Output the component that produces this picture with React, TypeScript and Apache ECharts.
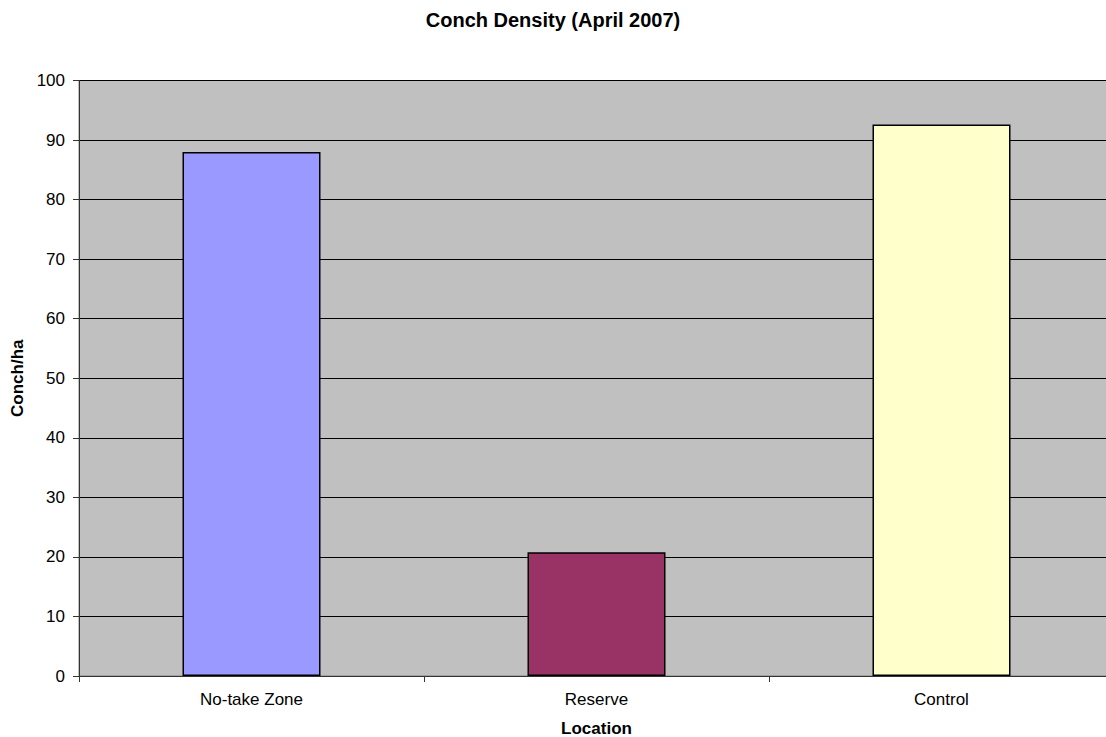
import React, { useEffect, useRef } from "react";
import * as echarts from "echarts";

const categories = ["No-take Zone", "Reserve", "Control"];
const density = [88, 20.8, 92.6];
const barColors = ["#9999FF", "#993366", "#FFFFCC"];
const yTicks = { min: 0, max: 100, interval: 10 };

const FONT = "Arial, 'Liberation Sans', Helvetica, sans-serif";

export default function App() {
  const ref = useRef<HTMLDivElement>(null);

  useEffect(() => {
    if (!ref.current) return;
    const chart = echarts.init(ref.current, undefined, { renderer: "svg" });
    chart.setOption({
      animation: false,
      backgroundColor: "#ffffff",
      textStyle: { fontFamily: FONT, color: "#000" },
      title: {
        text: "Conch Density (April 2007)",
        left: "center",
        top: 5,
        textStyle: { fontFamily: FONT, fontSize: 20, fontWeight: "bold", color: "#000" },
      },
      grid: {
        left: 79,
        top: 80.5,
        right: -8,
        bottom: 61,
        outerBoundsMode: "none",
        containLabel: false,
        show: true,
        backgroundColor: "#C0C0C0",
        borderColor: "#808080",
        borderWidth: 1,
      },
      xAxis: {
        type: "category",
        data: categories,
        boundaryGap: true,
        name: "Location",
        nameLocation: "middle",
        nameGap: 44,
        nameTextStyle: { fontFamily: FONT, fontSize: 17, fontWeight: "bold", color: "#000" },
        axisLine: { lineStyle: { color: "#333", width: 1 } },
        axisTick: { show: true, length: 6, alignWithLabel: false, lineStyle: { color: "#333" } },
        axisLabel: { fontFamily: FONT, fontSize: 17, color: "#000", margin: 15 },
        splitLine: { show: false },
      },
      yAxis: {
        type: "value",
        min: yTicks.min,
        max: yTicks.max,
        interval: yTicks.interval,
        name: "Conch/ha",
        nameLocation: "middle",
        nameGap: 47,
        nameTextStyle: { fontFamily: FONT, fontSize: 17, fontWeight: "bold", color: "#000" },
        axisLine: { show: true, lineStyle: { color: "#333", width: 1 } },
        axisTick: { show: true, length: 6, lineStyle: { color: "#333" } },
        axisLabel: { fontFamily: FONT, fontSize: 17, color: "#000", margin: 14 },
        splitLine: { show: true, lineStyle: { color: "#000", width: 1 } },
      },
      series: [
        {
          type: "bar",
          barWidth: "40%",
          data: density.map((v, i) => ({
            value: v,
            itemStyle: { color: barColors[i], borderColor: "#000", borderWidth: 1.5 },
          })),
        },
      ],
    });
    return () => chart.dispose();
  }, []);

  return (
    <div
      ref={ref}
      style={{ position: "fixed", left: 0, top: 0, width: 1106, height: 737 }}
    />
  );
}
